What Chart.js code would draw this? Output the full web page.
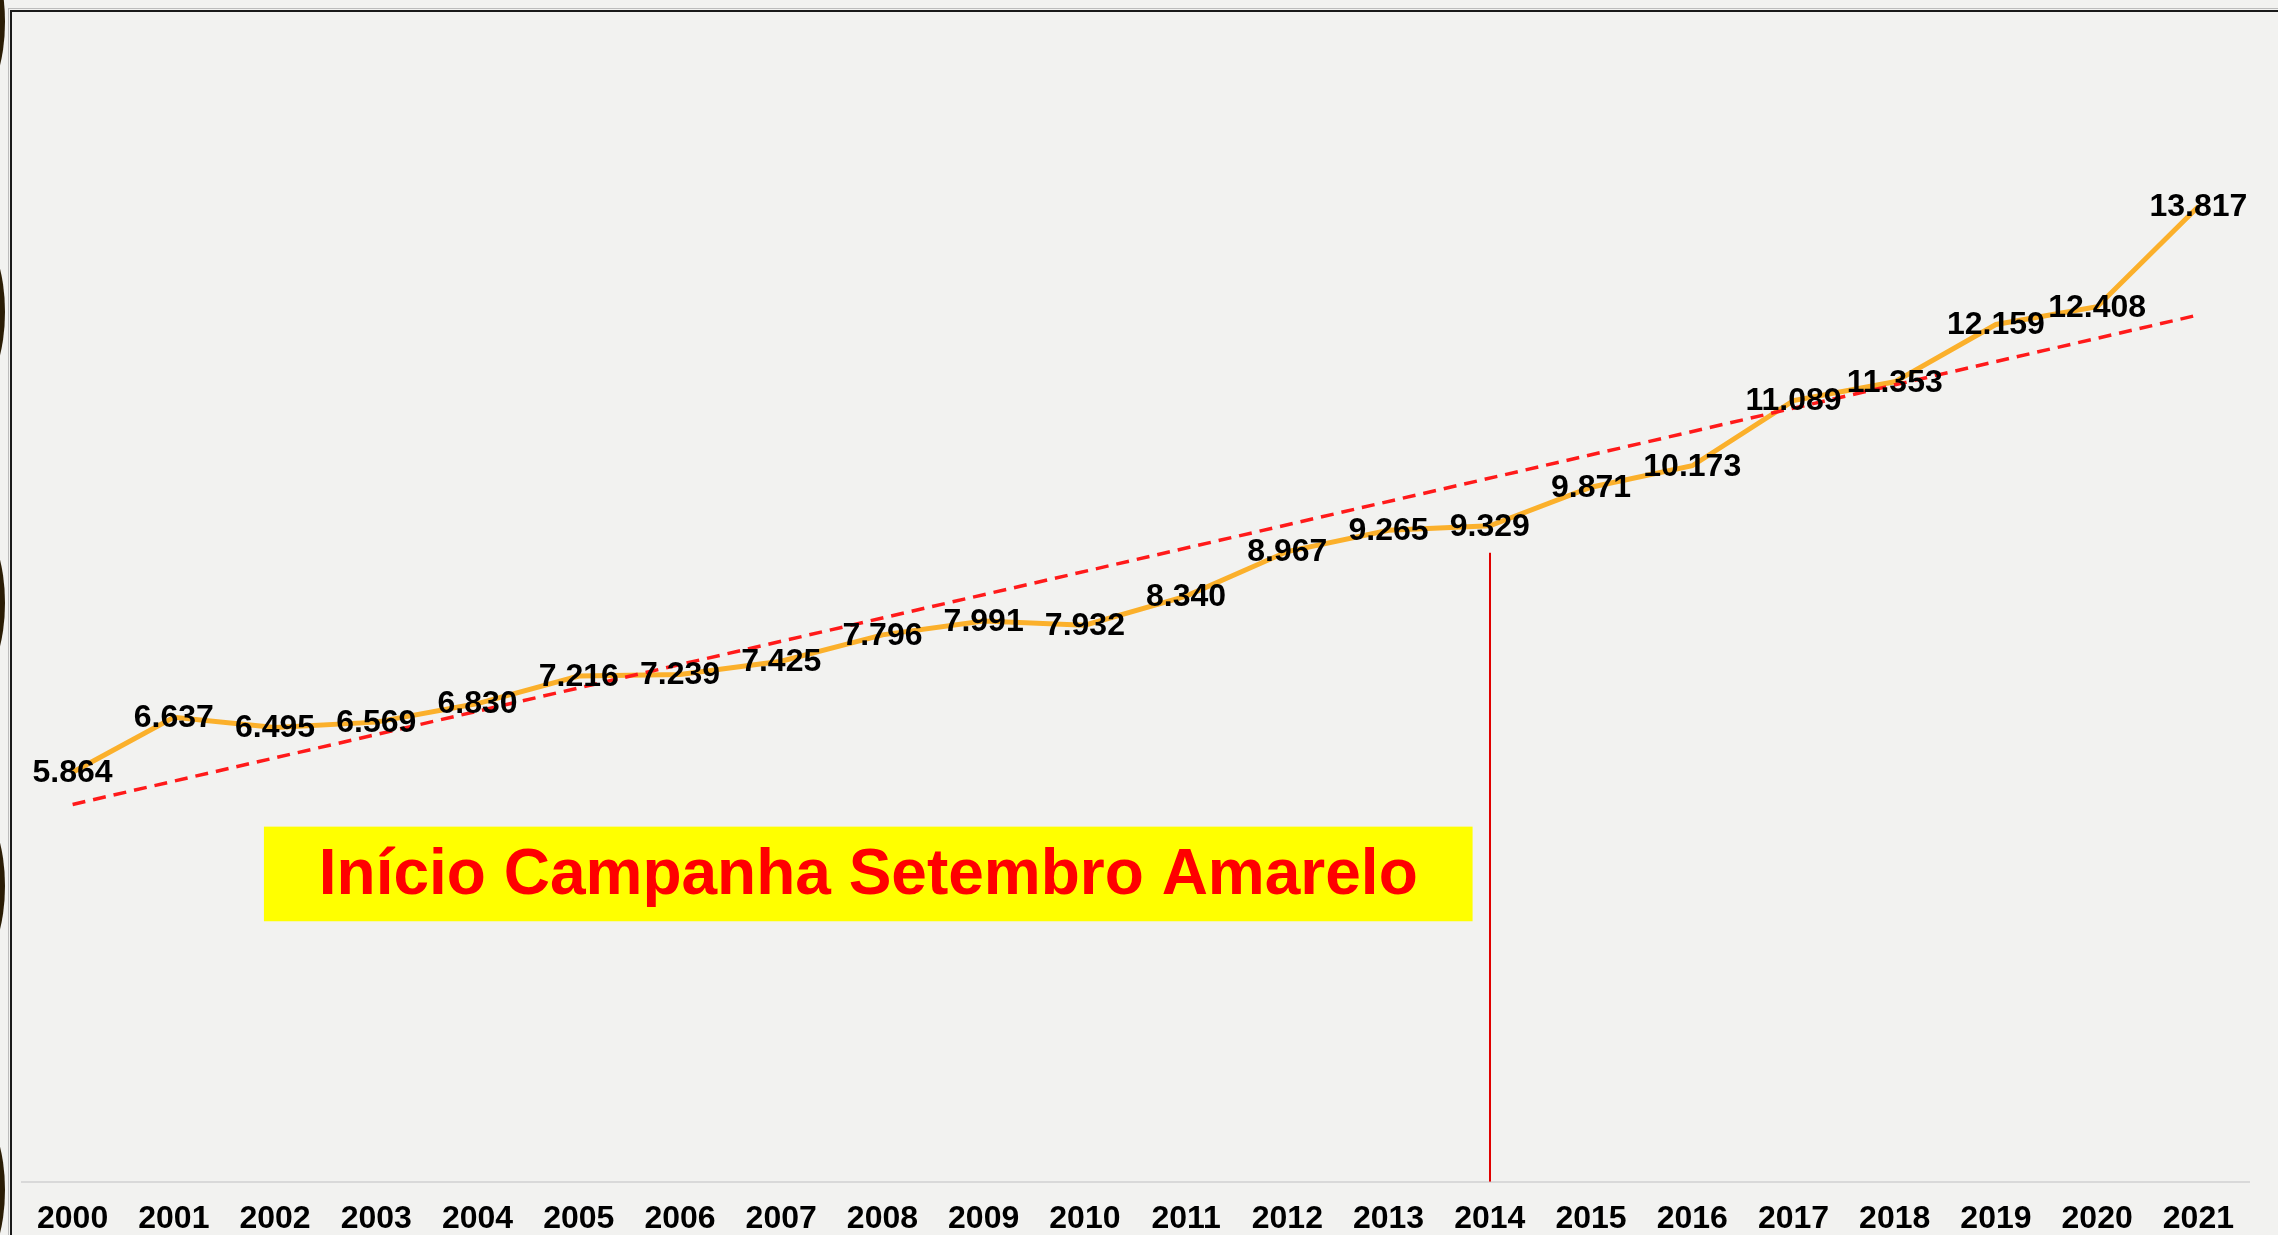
<!DOCTYPE html>
<html>
<head>
<meta charset="utf-8">
<script src="https://cdn.jsdelivr.net/npm/chart.js@4.4.1/dist/chart.umd.min.js"></script>
<style>
  html, body { margin: 0; padding: 0; background: #F2F2F0; overflow: hidden; }
  canvas { display: block; }
</style>
</head>
<body>
<canvas id="chartdiv" width="2278" height="1235" style="width:2278px;height:1235px"></canvas>
<script>
// anos e valores
var years = ['2000', '2001', '2002', '2003', '2004', '2005', '2006', '2007', '2008', '2009', '2010',
  '2011', '2012', '2013', '2014', '2015', '2016', '2017', '2018', '2019', '2020', '2021'];
var values = [5864, 6637, 6495, 6569, 6830, 7216, 7239, 7425, 7796, 7991, 7932,
  8340, 8967, 9265, 9329, 9871, 10173, 11089, 11353, 12159, 12408, 13817];
// linha de tendência (inicio e fim)
var trendYears = ['2000', '2021'];
var trendValues = [5412, 12293];
var campaignYear = '2014';
var campaignText = 'Início Campanha Setembro Amarelo';

var bg = '#F2F2F0';

// fundo, bordas e enfeites da lateral
var backdrop = {
  id: 'backdrop',
  beforeDraw: function (chart) {
    var c = chart.ctx;
    c.save();
    c.fillStyle = bg;
    c.fillRect(0, 0, chart.width, chart.height);
    c.fillStyle = '#2B1D05';
    [22, 312, 603, 886, 1190].forEach(function (cy) {
      c.beginPath();
      c.ellipse(-20, cy, 25, 72, 0, 0, Math.PI * 2);
      c.fill();
    });
    c.fillStyle = '#BDBDBD';
    c.fillRect(8, 8, chart.width, 1);
    c.fillRect(8, 8, 1, chart.height);
    c.fillStyle = '#1A1A1A';
    c.fillRect(10, 10, chart.width, 2);
    c.fillRect(10, 10, 2, chart.height);
    c.restore();
  }
};

// caixa amarela + linha vertical
var campaign = {
  id: 'campaign',
  beforeDatasetsDraw: function (chart) {
    var c = chart.ctx, x = chart.scales.x, y = chart.scales.y;
    c.save();
    var left = x.getPixelForValue(1.89), right = x.getPixelForValue(13.83);
    var top = y.getPixelForValue(5100), bottom = y.getPixelForValue(3770);
    c.fillStyle = '#FFFF00';
    c.fillRect(left, top, right - left, bottom - top);
    c.fillStyle = '#FF0000';
    c.font = 'bold 64px "Liberation Sans", Arial, sans-serif';
    c.textAlign = 'center';
    c.textBaseline = 'middle';
    c.fillText(campaignText, (left + right) / 2, (top + bottom) / 2 + 2);

    var vx = Math.round(x.getPixelForValue(years.indexOf(campaignYear)));
    c.fillStyle = '#E00000';
    c.fillRect(vx - 1, y.getPixelForValue(8950), 2, chart.chartArea.bottom - y.getPixelForValue(8950));
    c.restore();
  }
};

// rótulos de dados centrados nos pontos
var labels = {
  id: 'valueLabels',
  afterDatasetsDraw: function (chart) {
    var c = chart.ctx;
    var meta = chart.getDatasetMeta(1);
    c.save();
    c.fillStyle = '#000';
    c.font = 'bold 32px "Liberation Sans", Arial, sans-serif';
    c.textAlign = 'center';
    c.textBaseline = 'middle';
    meta.data.forEach(function (pt, i) {
      c.fillText(values[i].toLocaleString('pt-BR'), pt.x, pt.y + 1);
    });
    c.restore();
  }
};

var ctx = document.querySelector('#chartdiv');

var myChart = new Chart(ctx, {
  type: 'line',
  data: {
    labels: years,
    datasets: [{
      label: 'Tendência',
      data: trendYears.map(function (yr, i) { return { x: yr, y: trendValues[i] }; }),
      borderColor: '#FF1A1A',
      borderWidth: 3.5,
      borderDash: [13, 8],
      pointRadius: 0,
      order: 1
    }, {
      label: 'Suicídios',
      data: values,
      borderColor: '#FBB02B',
      borderWidth: 5,
      pointRadius: 0,
      tension: 0,
      order: 2
    }]
  },
  options: {
    responsive: false,
    animation: false,
    layout: { padding: { left: 22, right: 29, top: 10, bottom: -13 } },
    plugins: {
      legend: { display: false },
      tooltip: { enabled: false }
    },
    scales: {
      x: {
        offset: true,
        grid: { display: false },
        border: { display: true, color: '#D9D9D9', width: 2 },
        ticks: {
          color: '#000',
          padding: 10,
          maxRotation: 0,
          autoSkip: false,
          font: { family: '"Liberation Sans", Arial, sans-serif', size: 32, weight: 'bold' }
        }
      },
      y: {
        display: false,
        min: 110,
        max: 16580
      }
    }
  },
  plugins: [backdrop, campaign, labels]
});
</script>
</body>
</html>
